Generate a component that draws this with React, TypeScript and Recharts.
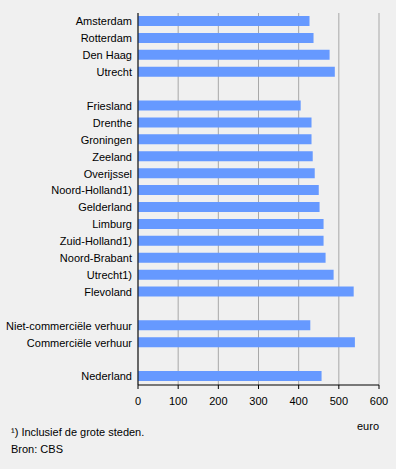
import { BarChart, Bar, XAxis, YAxis, CartesianGrid } from "recharts";

// "" = empty spacer row between groups
const categories = [
  "Amsterdam",
  "Rotterdam",
  "Den Haag",
  "Utrecht",
  "",
  "Friesland",
  "Drenthe",
  "Groningen",
  "Zeeland",
  "Overijssel",
  "Noord-Holland1)",
  "Gelderland",
  "Limburg",
  "Zuid-Holland1)",
  "Noord-Brabant",
  "Utrecht1)",
  "Flevoland",
  "",
  "Niet-commerciële verhuur",
  "Commerciële verhuur",
  "",
  "Nederland",
];

const huur = [
  427, 437, 477, 490, null,
  405, 432, 432, 435, 440, 450, 452, 462, 462, 467, 487, 537, null,
  429, 540, null,
  457,
];

const xTicks = [0, 100, 200, 300, 400, 500, 600];

const data = categories.map((name, i) => ({ id: i, name, huur: huur[i] }));

const font = "Arial, 'Liberation Sans', sans-serif";

// plain svg text, so long labels do not get wrapped
const CategoryTick = (props: any) => {
  const { x, y, payload } = props;
  return (
    <text
      x={x}
      y={y}
      dy="0.355em"
      textAnchor="end"
      fill="#000"
      fontSize={11}
      fontFamily={font}
    >
      {categories[payload.value]}
    </text>
  );
};

export default function App() {
  return (
    <div
      style={{
        position: "absolute",
        left: 0,
        top: 0,
        width: 396,
        height: 469,
        background: "#f0f0f0",
        fontFamily: font,
      }}
    >
      <BarChart
        width={396}
        height={469}
        data={data}
        layout="vertical"
        margin={{ top: 13, right: 17, left: 0, bottom: 0 }}
      >
        <CartesianGrid horizontal={false} stroke="#a8a8a8" />
        <XAxis
          type="number"
          domain={[0, 600]}
          ticks={xTicks}
          interval={0}
          height={84}
          tickSize={4}
          tickMargin={8}
          axisLine={{ stroke: "#000" }}
          tickLine={{ stroke: "#000" }}
          tick={{ fill: "#000", fontSize: 11, fontFamily: font }}
        />
        <XAxis
          xAxisId="top"
          orientation="top"
          type="number"
          domain={[0, 600]}
          height={0}
          tick={false}
          tickLine={false}
          axisLine={{ stroke: "#808080" }}
        />
        <YAxis
          type="category"
          dataKey="id"
          width={138}
          tickSize={0}
          tickMargin={6}
          interval={0}
          axisLine={{ stroke: "#000" }}
          tickLine={false}
          tick={<CategoryTick />}
        />
        <YAxis
          yAxisId="right"
          orientation="right"
          type="category"
          dataKey="id"
          width={0}
          tick={false}
          tickLine={false}
          axisLine={{ stroke: "#808080" }}
        />
        <Bar
          dataKey="huur"
          fill="#6699ff"
          barSize={10}
          isAnimationActive={false}
        />
      </BarChart>
      <div style={{ position: "absolute", left: 357, top: 420, fontSize: 11 }}>
        euro
      </div>
      <div style={{ position: "absolute", left: 11, top: 426, fontSize: 11 }}>
        ¹) Inclusief de grote steden.
      </div>
      <div style={{ position: "absolute", left: 11, top: 443, fontSize: 11 }}>
        Bron: CBS
      </div>
    </div>
  );
}
